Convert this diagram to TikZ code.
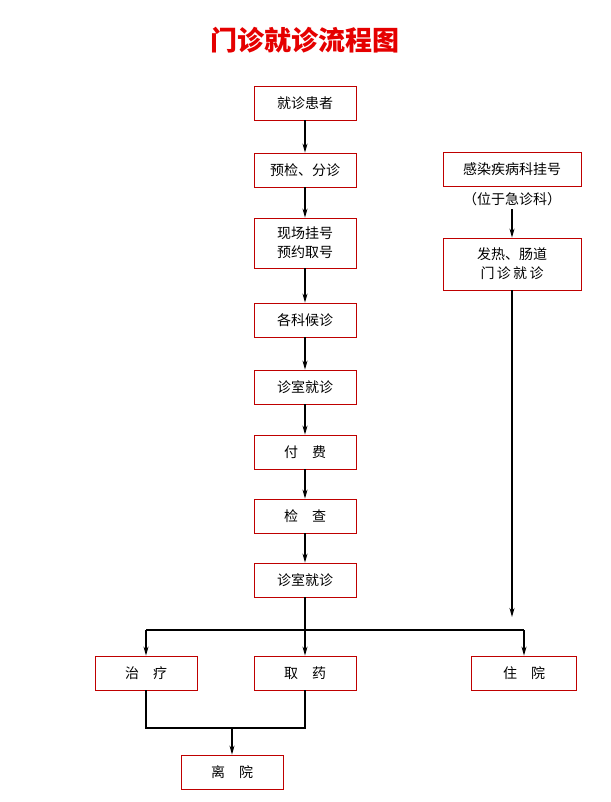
\documentclass[tikz,border=0pt]{standalone}
\usepackage{fontspec}
\setmainfont{Noto Sans CJK SC}
\usetikzlibrary{arrows.meta}
\begin{document}
\begin{tikzpicture}[x=1pt,y=-1pt,
 bx/.style={draw=red!75!black,line width=0.8pt,minimum width=102pt,minimum height=34pt,align=center,font=\fontsize{14}{19}\selectfont,inner sep=1pt},
 ar/.style={-{Stealth[length=9pt,width=5pt]},line width=1.3pt},
 ln/.style={line width=1.3pt}]
\useasboundingbox (0,0) rectangle (610,802);
\node[text=red!90!black,font=\fontsize{27}{30}\selectfont\bfseries] (t) at (305,40) {门诊就诊流程图};
\node[bx] (a1) at (305,103) {就诊患者};
\node[bx] (a2) at (305,170) {预检、分诊};
\node[bx,minimum height=50pt] (a3) at (305,243) {现场挂号\\预约取号};
\node[bx] (a4) at (305,320) {各科候诊};
\node[bx] (a5) at (305,387) {诊室就诊};
\node[bx] (a6) at (305,452) {付\quad 费};
\node[bx] (a7) at (305,516) {检\quad 查};
\node[bx] (a8) at (305,580) {诊室就诊};
\node[bx,minimum width=138pt] (b1) at (512,169) {感染疾病科挂号};
\node[font=\fontsize{14}{19}\selectfont] (b1n) at (512,199) {（位于急诊科）};
\node[bx,minimum width=138pt,minimum height=52pt] (b2) at (512,264) {发热、肠道\\门\,诊\,就\,诊};
\node[bx] (c1) at (146,673) {治\quad 疗};
\node[bx] (c2) at (305,673) {取\quad 药};
\node[bx,minimum width=105pt] (c3) at (524,673) {住\quad 院};
\node[bx] (d) at (232,772) {离\quad 院};
\draw[ar] (a1) -- (a2);
\draw[ar] (a2) -- (a3);
\draw[ar] (a3) -- (a4);
\draw[ar] (a4) -- (a5);
\draw[ar] (a5) -- (a6);
\draw[ar] (a6) -- (a7);
\draw[ar] (a7) -- (a8);
\draw[ar] (b1n.south) -- (b2);
\coordinate (h) at (305,630);
\draw[ar] (a8) -- (c2);
\draw[ln] (c1.north |- h) -- (c3.north |- h);
\draw[ar] (c1.north |- h) -- (c1);
\draw[ar] (c3.north |- h) -- (c3);
\draw[ar] (b2.south) -- (512,617);
\coordinate (m) at (232,728);
\draw[ln] (c1) -- (c1 |- m) -- (c2 |- m) -- (c2);
\draw[ar] (m) -- (d);
\end{tikzpicture}
\end{document}
